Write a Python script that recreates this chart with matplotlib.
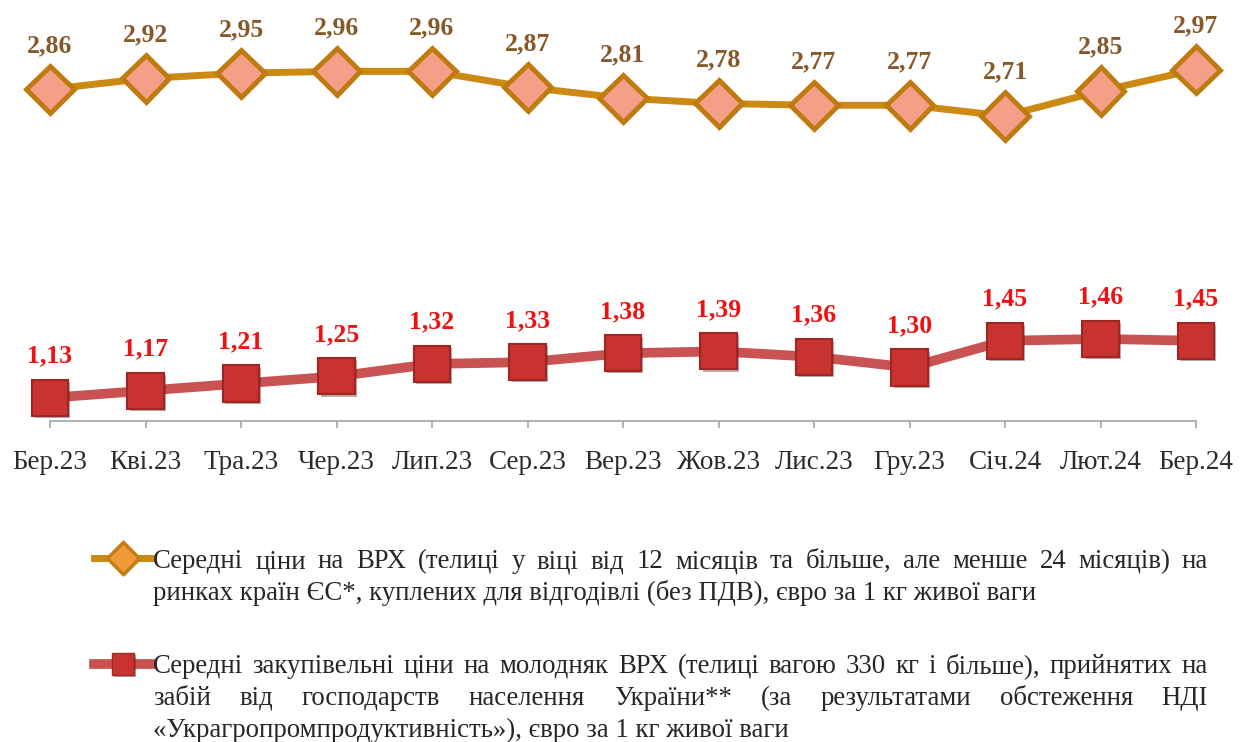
import numpy as np
import matplotlib
matplotlib.use('Agg')
from matplotlib import pyplot as plt
import matplotlib.patheffects as pe

# дані
months = ['Бер.23', 'Кві.23', 'Тра.23', 'Чер.23', 'Лип.23', 'Сер.23', 'Вер.23',
          'Жов.23', 'Лис.23', 'Гру.23', 'Січ.24', 'Лют.24', 'Бер.24']
eu_prices = [2.86, 2.92, 2.95, 2.96, 2.96, 2.87, 2.81, 2.78, 2.77, 2.77, 2.71, 2.85, 2.97]
ua_prices = [1.13, 1.17, 1.21, 1.25, 1.32, 1.33, 1.38, 1.39, 1.36, 1.30, 1.45, 1.46, 1.45]

legend_eu = [['Середні ціни на ВРХ (телиці у віці від 12 місяців та більше, але менше 24 місяців) на',
              'ринках країн ЄС*, куплених для відгодівлі (без ПДВ), євро за 1 кг живої ваги']]
legend_ua = [['Середні закупівельні ціни на молодняк ВРХ (телиці вагою 330 кг і більше), прийнятих на',
              'забій від господарств населення України** (за результатами обстеження НДІ',
              '«Украгропромпродуктивність»), євро за 1 кг живої ваги']]

plt.rcParams['font.family'] = ['Liberation Serif', 'DejaVu Serif']

W, H = 1246, 742
fig = plt.figure(figsize=(W / 100, H / 100), dpi=100)

# осі: x від першої до останньої категорії, низ на рівні осі
ax = fig.add_axes([50 / W, (H - 421) / H, (1196 - 50) / W, 421 / H])
x = np.arange(len(months))
ax.set_xlim(0, len(months) - 1)
ax.set_ylim(1.0, 3.36)

shadow = [pe.SimplePatchShadow(offset=(1.5, -1.5), alpha=0.35), pe.Normal()]

orange = '#CC8A14'
ax.plot(x, eu_prices, color=orange, lw=5, zorder=2, clip_on=False)
ax.plot(x, eu_prices, ls='none', marker='D', ms=24, mfc='#F4A088', mec='#BF7A10',
        mew=3.5, zorder=3, clip_on=False, path_effects=shadow)

red_line = '#C95252'
ax.plot(x, ua_prices, color=red_line, lw=7, zorder=2, clip_on=False)
ax.plot(x, ua_prices, ls='none', marker='s', ms=26, mfc='#C9332F', mec='#A02624',
        mew=1.5, zorder=3, clip_on=False, path_effects=shadow)

for xi, v in zip(x, eu_prices):
    ax.annotate(f'{v:.2f}'.replace('.', ','), (xi, v), xytext=(0, 31.5), textcoords='offset points',
                ha='center', va='center', fontsize=18.5, fontweight='bold', color='#86582A')
for xi, v in zip(x, ua_prices):
    ax.annotate(f'{v:.2f}'.replace('.', ','), (xi, v), xytext=(0, 30), textcoords='offset points',
                ha='center', va='center', fontsize=18.5, fontweight='bold', color='#EE1111')

for s in ['top', 'right', 'left']:
    ax.spines[s].set_visible(False)
ax.spines['bottom'].set_color('#A6A6A6')
ax.spines['bottom'].set_linewidth(1.2)
ax.set_yticks([])
ax.set_xticks(x)
ax.set_xticklabels(months, fontsize=19.5, color='#2B2B2B')
ax.tick_params(axis='x', direction='out', length=5, width=1.2, color='#A6A6A6', pad=16)

# легенда з вирівнюванням по ширині
renderer = fig.canvas.get_renderer()
x0, x1 = 153, 1208
fs_leg = 19.3


def justify(lines, base_y):
    for i, line in enumerate(lines):
        yb = base_y + i * 32
        words = line.split(' ')
        last = i == len(lines) - 1
        if last:
            fig.text(x0 / W, 1 - yb / H, line, fontsize=fs_leg, color='#262626', va='baseline')
            continue
        ts = [fig.text(0, 1 - yb / H, w, fontsize=fs_leg, color='#262626', va='baseline') for w in words]
        widths = [t.get_window_extent(renderer).width for t in ts]
        gap = (x1 - x0 - sum(widths)) / (len(words) - 1)
        pos = x0
        for t, wd in zip(ts, widths):
            t.set_x(pos / W)
            pos += wd + gap


justify(legend_eu[0], 568)
justify(legend_ua[0], 673)

# маркери легенди
lax = fig.add_axes([0, 0, 1, 1], facecolor='none')
lax.set_xlim(0, W)
lax.set_ylim(H, 0)
lax.axis('off')
lax.plot([94, 152], [558, 558], color=orange, lw=5)
lax.plot([123], [558], marker='D', ms=16, mfc='#F09A3A', mec='#C47F12', mew=2.5, path_effects=shadow)
lax.plot([94, 152], [664, 664], color=red_line, lw=7)
lax.plot([123], [664], marker='s', ms=16, mfc='#C9332F', mec='#A02624', mew=1, path_effects=shadow)

fig.savefig('out.png', dpi=100)
